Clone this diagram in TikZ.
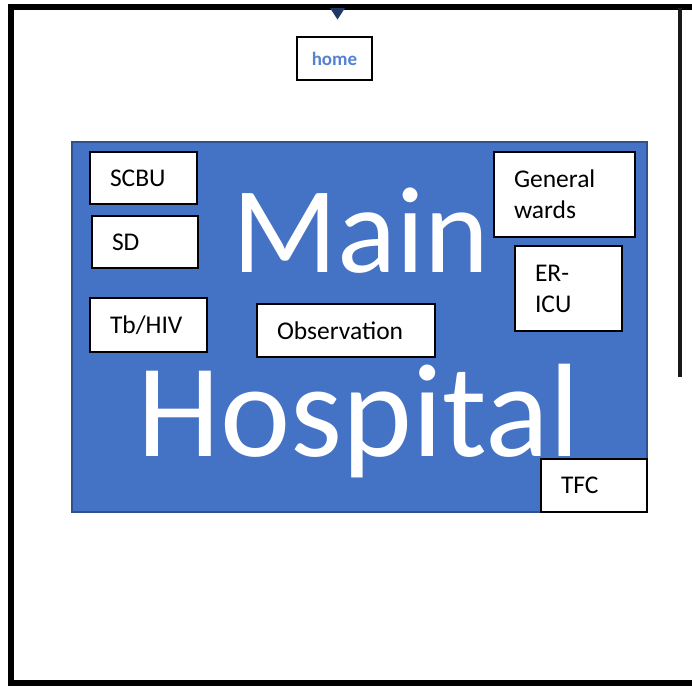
\documentclass[tikz,border=0pt]{standalone}
\usepackage{fontspec}
\setmainfont{Carlito}
\begin{document}
\begin{tikzpicture}[x=1pt,y=-1pt,
  ward/.style={draw=black,line width=2.3pt,fill=white,inner xsep=20pt,inner ysep=0pt,
    align=left,font=\fontsize{25.5}{31}\selectfont},
  frame/.style={line width=6.5pt,draw=black,line join=miter},
  bigword/.style={text=white,inner sep=0pt,anchor=base}]
\definecolor{hospblue}{HTML}{4472C4}
\definecolor{hospedge}{HTML}{2F528F}
\definecolor{navy}{HTML}{1F3864}
\definecolor{linkblue}{HTML}{5582D0}
\useasboundingbox (0,0) rectangle (692,686);
\fill[white] (0,0) rectangle (692,686);

% outer wall of the site
\draw[frame] (692,7) -- (11,7) -- (11,683) -- (692,683);
\draw[line width=4pt,draw=black!90] (679.5,8) -- (679.5,377);
% entrance marker
\fill[navy] (330,8) -- (345,8) -- (337.5,19.5) -- cycle;

% home link
\node[draw=black,line width=1.8pt,minimum width=75pt,minimum height=43pt,inner sep=0pt,
  text=linkblue,font=\fontsize{19}{22}\selectfont\bfseries] (home) at (334.5,58.5) {home};

% main hospital block
\node[draw=hospedge,line width=1.5pt,fill=hospblue,minimum width=575pt,minimum height=370pt,
  inner sep=0pt] (hosp) at (359.5,327) {};
\node[bigword,font=\fontsize{123}{123}\selectfont] (mainword) at (360.5,272) {Main};
\node[bigword,font=\fontsize{133}{133}\selectfont] (hospword) at (359,456) {Hospital};

% departments
\node[ward,text width=67pt,minimum height=52pt] (scbu) at (143.5,178) {SCBU};
\node[ward,text width=66pt,minimum height=52pt] (sd) at (145,242) {SD};
\node[ward,text width=77pt,minimum height=54pt] (tbhiv) at (148.5,325) {Tb/HIV};
\node[ward,text width=138pt,minimum height=53pt] (obs) at (346,330.5) {Observation};
\node[ward,text width=101pt,minimum height=85pt] (gen) at (564.5,194.5) {General\\wards};
\node[ward,text width=67pt,minimum height=85pt] (ericu) at (568.5,288.5) {ER-\\ICU};
\node[ward,text width=66pt,minimum height=53pt] (tfc) at (594,485.5) {TFC};
\end{tikzpicture}
\end{document}
